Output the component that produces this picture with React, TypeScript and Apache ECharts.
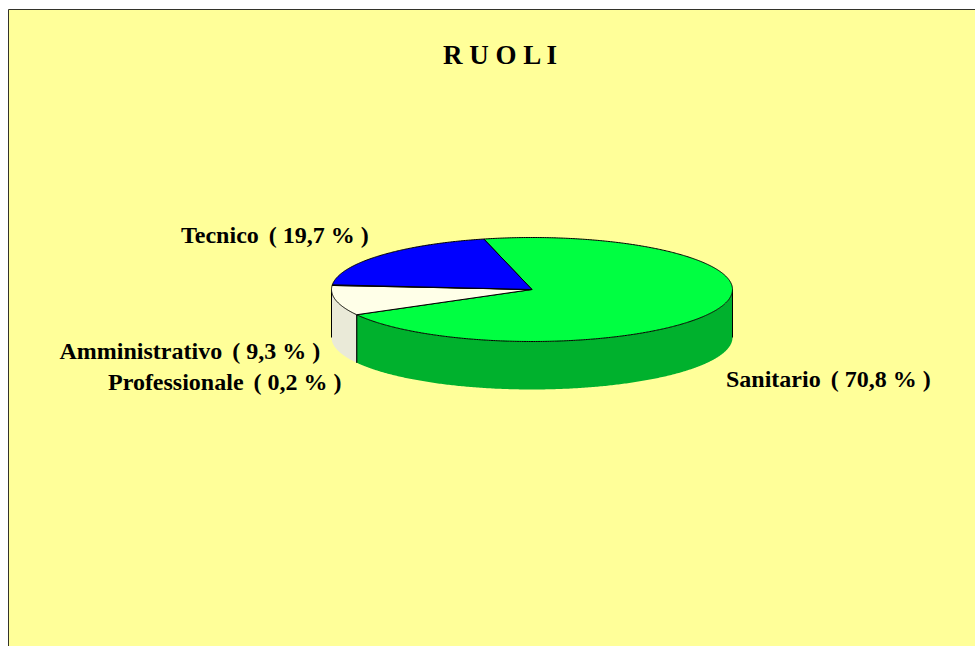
import React, { useEffect, useRef } from "react";
import * as echarts from "echarts";

const titleText = "R U O L I";
const categories = ["Sanitario", "Amministrativo", "Professionale", "Tecnico"];
const shares = [70.8, 9.3, 0.2, 19.7];
const shareLabels = ["70,8", "9,3", "0,2", "19,7"];
const topColors = ["#00FF41", "#FFFFE8", "#FFFFE8", "#0000FF"];
const sideColors = ["#00B12D", "#EAEAD8", "#EAEAD8", "#0000B0"];
const labelPositions = [
  [726, 379],
  [59.5, 351],
  [108, 382],
  [181, 235],
];

const CX = 532;
const CY = 289.5;
const RX = 200.5;
const RY = 52;
const DEPTH = 48;
const START_DEG = 346.1;

function pt(deg: number, dy = 0): number[] {
  const t = (deg * Math.PI) / 180;
  return [CX + RX * Math.sin(t), CY - RY * Math.cos(t) + dy];
}

function sliceRange(i: number): [number, number] {
  const total = shares.reduce((a, b) => a + b, 0);
  let before = 0;
  for (let k = 0; k < i; k++) before += shares[k];
  const a = START_DEG + (before / total) * 360;
  return [a, a + (shares[i] / total) * 360];
}

function arcPoints(a: number, b: number, dy = 0): number[][] {
  const out: number[][] = [];
  const n = Math.max(2, Math.ceil(Math.abs(b - a) * 2));
  for (let j = 0; j <= n; j++) out.push(pt(a + ((b - a) * j) / n, dy));
  return out;
}

function renderSide(params: any) {
  const i = params.dataIndex;
  const [a, b] = sliceRange(i);
  const children: any[] = [];
  for (const off of [0, 360, -360]) {
    const s = Math.max(a + off, 90);
    const e = Math.min(b + off, 270);
    if (e <= s) continue;
    const upper = arcPoints(s, e);
    const lower = arcPoints(e, s, DEPTH);
    children.push({
      type: "polygon",
      shape: { points: upper.concat(lower) },
      style: { fill: sideColors[i], stroke: null },
    });
    for (const edge of [s, e]) {
      const p = pt(edge);
      children.push({
        type: "line",
        shape: { x1: p[0], y1: p[1], x2: p[0], y2: p[1] + DEPTH },
        style: { stroke: "#000", lineWidth: 1 },
      });
    }
  }
  return { type: "group", children };
}

function renderTop(params: any) {
  const i = params.dataIndex;
  const [a, b] = sliceRange(i);
  return {
    type: "polygon",
    shape: { points: [[CX, CY] as number[]].concat(arcPoints(a, b)) },
    style: { fill: topColors[i], stroke: "#000", lineWidth: 1, lineJoin: "round" },
  };
}

export default function App() {
  const ref = useRef<HTMLDivElement>(null);
  useEffect(() => {
    const chart = echarts.init(ref.current!, null, { renderer: "svg" });
    const rows = shares.map((v, i) => ({ name: categories[i], value: v }));
    chart.setOption({
      animation: false,
      backgroundColor: "#FFFFFF",
      title: {
        text: titleText,
        left: 438,
        top: 36,
        textStyle: { fontFamily: "Liberation Serif", fontWeight: "bold", fontSize: 27, color: "#000" },
      },
      graphic: [
        {
          type: "rect",
          z: -10,
          silent: true,
          shape: { x: 8.5, y: 9.5, width: 1000, height: 700 },
          style: { fill: "#FFFF99", stroke: "#33332A", lineWidth: 1 },
        },
        ...categories.map((c, i) => ({
          type: "text",
          x: labelPositions[i][0],
          y: labelPositions[i][1],
          silent: true,
          z: 10,
          style: {
            text: `${c} \u2006( ${shareLabels[i]} % )`,
            font: "bold 24px 'Liberation Serif'",
            fill: "#000",
            verticalAlign: "middle",
          },
        })),
      ],
      series: [
        { type: "custom", coordinateSystem: "none", renderItem: renderSide, data: rows, silent: true, z: 1 },
        { type: "custom", coordinateSystem: "none", renderItem: renderTop, data: rows, silent: true, z: 2 },
      ],
    });
    return () => chart.dispose();
  }, []);
  return <div ref={ref} style={{ position: "fixed", left: 0, top: 0, width: 975, height: 646 }} />;
}
